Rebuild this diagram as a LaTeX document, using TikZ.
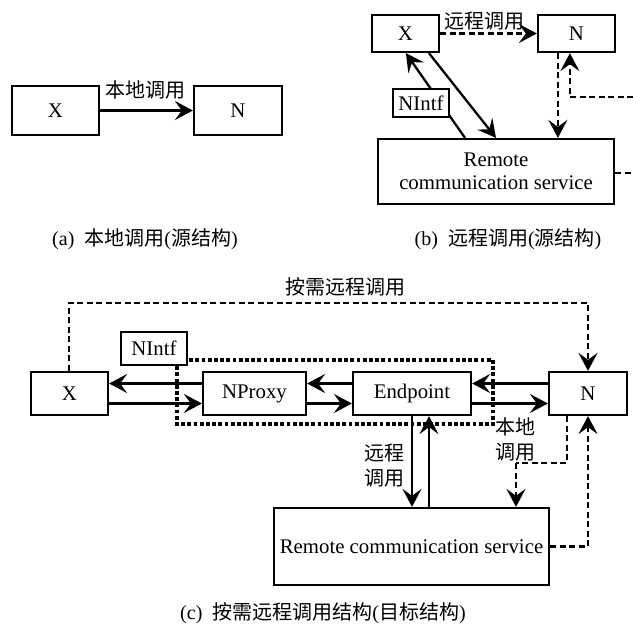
\documentclass[tikz,border=0pt]{standalone}
\usepackage{fontspec}
\setmainfont{Liberation Serif}
\newfontfamily\cjk{Noto Sans CJK SC}
\usetikzlibrary{arrows.meta,calc}

\tikzset{
  box/.style={draw, line width=2.2pt, fill=white, inner sep=0pt, anchor=center},
  conn/.style={line width=2.3pt, -{Stealth[length=18pt,width=19pt,inset=7pt]}},
  dconn/.style={conn, dash pattern=on 6pt off 3.5pt},
  dline/.style={line width=2.3pt, dash pattern=on 6pt off 3.5pt},
  lbl/.style={inner sep=0pt, font=\fontsize{20}{25}\selectfont\cjk},
  captext/.style={inner sep=0pt, font=\fontsize{20}{25}\selectfont},
}

\begin{document}
\begin{tikzpicture}[x=1pt, y=-1pt, font=\fontsize{20.8}{25}\selectfont]
\useasboundingbox (0,0) rectangle (633,629);

% ---------- (a) local call ----------
\node[box, minimum width=87pt, minimum height=49pt] (Xa) at (55.5,110.5) {X};
\node[box, minimum width=88pt, minimum height=49pt] (Na) at (238,110.5) {N};
\draw[conn] (Xa.east) -- (Na.west);
\node[lbl] (La) at (145,90) {本地调用};
\node[captext] (Ca) at (145,239) {(a)\ \ {\cjk 本地调用}({\cjk 源结构})};

% ---------- (b) remote call ----------
\node[box, minimum width=67pt, minimum height=37pt] (Xb) at (405.5,33.5) {X};
\node[box, minimum width=77pt, minimum height=37pt] (Nb) at (576.5,33.5) {N};
\node[box, minimum width=236pt, minimum height=65pt, align=center] (Rb) at (496,171.5)
  {Remote\\[-2pt]communication service};
\draw[dconn] (Xb.east) -- (Nb.west);
\node[lbl] (Lb) at (484,21) {远程调用};
\draw[conn] ([xshift=-31pt]Rb.north) -- ([xshift=35pt]Xb.south west);
\draw[conn] ([xshift=58pt]Xb.south west) -- (Rb.north);
\node[box, minimum width=56pt, minimum height=28pt] (Ib) at (421,103) {NIntf};
\coordinate (bA) at ([xshift=21pt]Nb.south west);
\draw[dconn] (bA) -- (bA |- Rb.north);
\coordinate (bIn) at (633,97);
\coordinate (bUp) at ([xshift=33pt]Nb.south west);
\draw[dconn] (bIn) -| (bUp);
\coordinate (bOut) at (633,173);
\draw[dline] (Rb.east |- bOut) -- (bOut);
\node[captext] (Cb) at (508,239) {(b)\ \ {\cjk 远程调用}({\cjk 源结构})};

% ---------- (c) on-demand remote call ----------
\draw[line width=3.8pt, dash pattern=on 3.8pt off 2.4pt] (177,360) rectangle (493,424);
\node[box, minimum width=77pt, minimum height=43pt] (Xc) at (69.5,393.5) {X};
\node[box, minimum width=103pt, minimum height=43pt] (Pc) at (254.5,393.5) {NProxy};
\node[box, minimum width=118pt, minimum height=43pt] (Ec) at (412,393.5) {Endpoint};
\node[box, minimum width=78pt, minimum height=43pt] (Nc) at (588,393.5) {N};
\node[box, minimum width=66pt, minimum height=33pt] (Ic) at (154,348.5) {NIntf};
\node[box, minimum width=275pt, minimum height=77pt] (Rc) at (411.5,546.5) {Remote communication service};

% return (upper, leftwards) and request (lower, rightwards) along the chain
\draw[conn] ([yshift=10pt]Pc.west) -- ([yshift=10pt]Xc.east);
\draw[conn] ([yshift=-10pt]Xc.east) -- ([yshift=-10pt]Pc.west);
\draw[conn] ([yshift=10pt]Ec.west) -- ([yshift=10pt]Pc.east);
\draw[conn] ([yshift=-10pt]Pc.east) -- ([yshift=-10pt]Ec.west);
\draw[conn] ([yshift=10pt]Nc.west) -- ([yshift=10pt]Ec.east);
\draw[conn] ([yshift=-10pt]Ec.east) -- ([yshift=-10pt]Nc.west);

% on-demand remote call over the top
\coordinate (cTop) at (69,303);
\draw[dconn] (Xc.north -| cTop) -- (cTop) -| (Nc.north);
\node[lbl] (Lc1) at (345,287) {按需远程调用};

% endpoint <-> remote service
\draw[conn] (Ec.south) -- (Ec.south |- Rc.north);
\coordinate (cUp) at ([xshift=17pt]Ec.south);
\draw[conn] (cUp |- Rc.north) -- (cUp);
\node[lbl, align=center] (Lc2) at (384,465.5) {远程\\调用};

% N <-> remote service (local call path)
\coordinate (cD) at ([xshift=-21pt]Nc.south);
\coordinate (cBend) at (516,463);
\draw[dline] (cD) -- (cD |- cBend) -- (cBend);
\draw[dconn] (cBend) -- (cBend |- Rc.north);
\draw[dconn] (Rc.east) -| (Nc.south);
\node[lbl, align=center] (Lc3) at (515,439.5) {本地\\调用};

\node[captext] (Cc) at (323,613) {(c)\ \ {\cjk 按需远程调用结构}({\cjk 目标结构})};
\end{tikzpicture}
\end{document}
